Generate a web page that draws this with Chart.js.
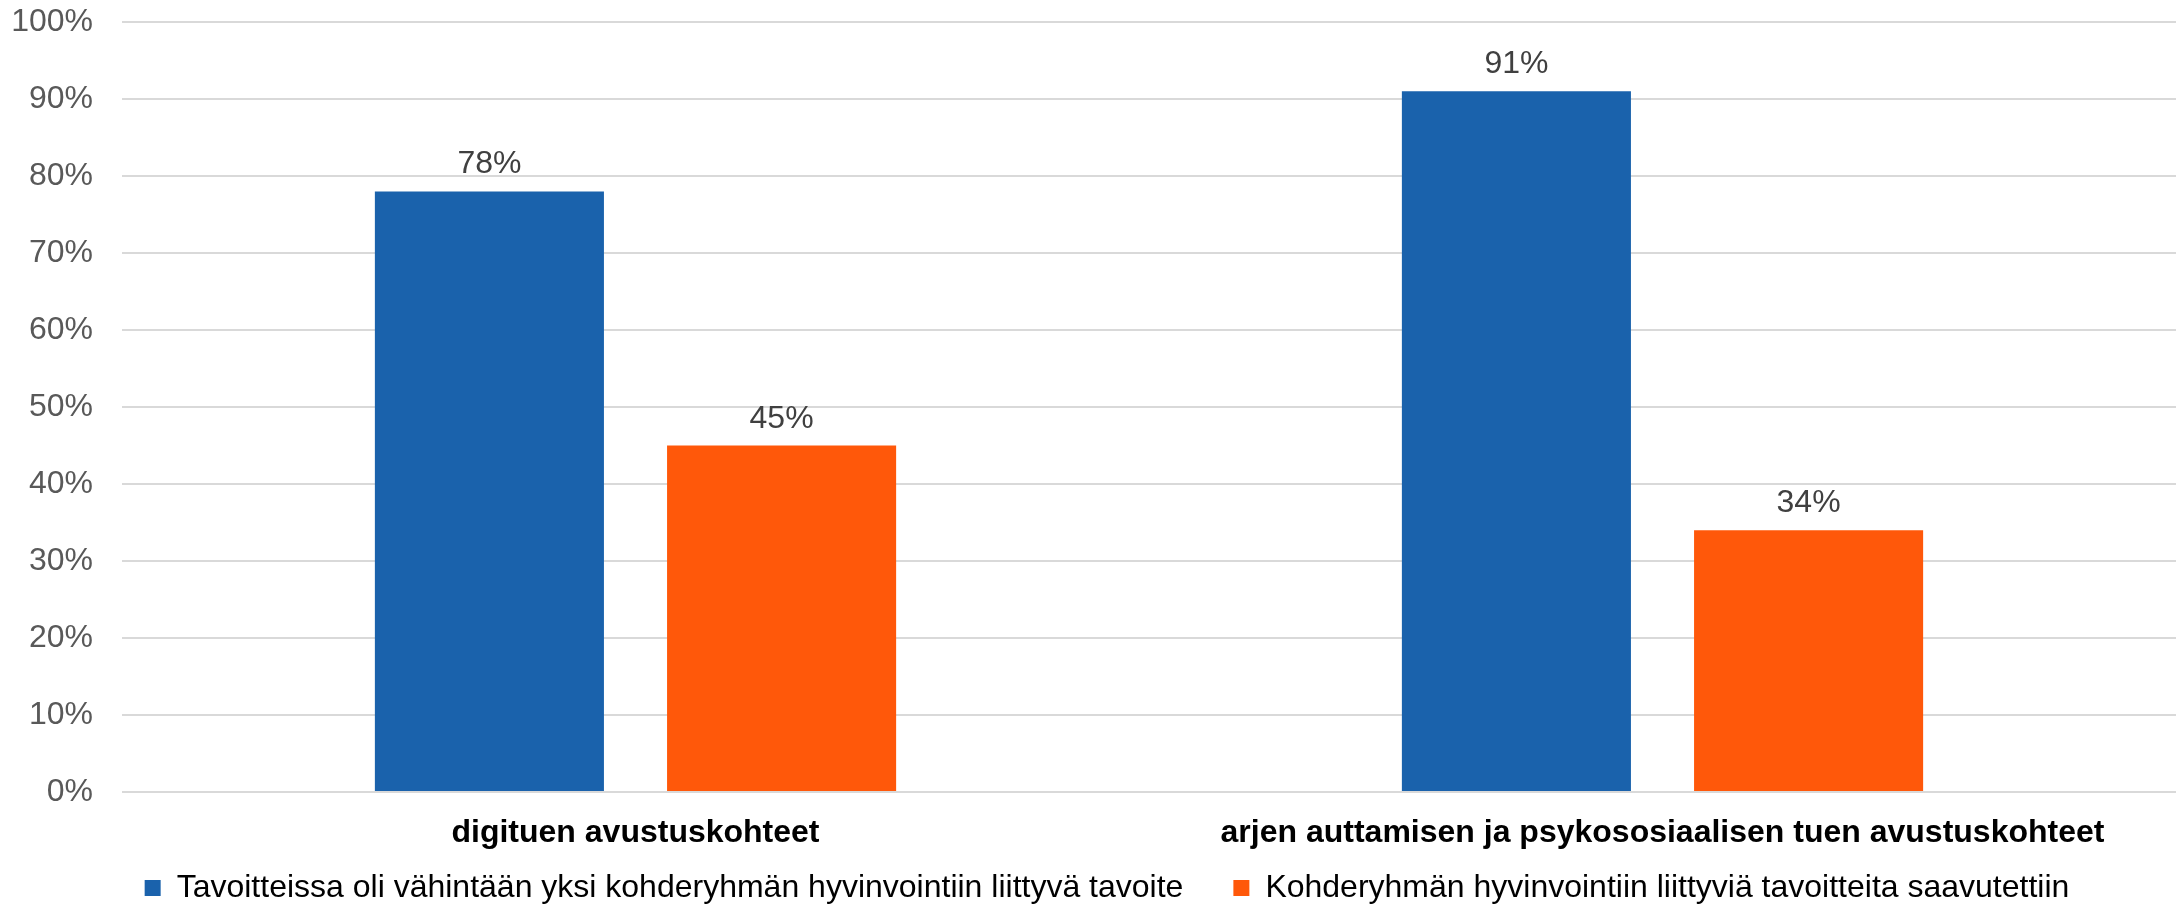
<!DOCTYPE html>
<html>
<head>
<meta charset="utf-8">
<script src="https://cdn.jsdelivr.net/npm/chart.js@4"></script>
<style>
  html, body { margin: 0; padding: 0; background: #fff; }
  #wrap { width: 2176px; height: 907px; }
</style>
</head>
<body>
<div id="wrap"><canvas id="chart"></canvas></div>
<script>
const categories = ['digituen avustuskohteet', 'arjen auttamisen ja psykososiaalisen tuen avustuskohteet'];
const seriesNames = [
  'Tavoitteissa oli vähintään yksi kohderyhmän hyvinvointiin liittyvä tavoite',
  'Kohderyhmän hyvinvointiin liittyviä tavoitteita saavutettiin'
];
const goalSet = [78, 91];
const goalReached = [45, 34];
const seriesColors = ['#1a62ac', '#ff580a'];

const FONT = "'Liberation Sans', Arial, sans-serif";

// draws the percent value above each bar
const valueLabels = {
  id: 'valueLabels',
  afterDatasetsDraw(chart) {
    const ctx = chart.ctx;
    ctx.save();
    ctx.font = '32px ' + FONT;
    ctx.fillStyle = '#404040';
    ctx.textAlign = 'center';
    ctx.textBaseline = 'alphabetic';
    chart.data.datasets.forEach((ds, i) => {
      chart.getDatasetMeta(i).data.forEach((bar, j) => {
        ctx.fillText(ds.data[j] + '%', bar.x, bar.y - 18);
      });
    });
    ctx.restore();
  }
};

new Chart(document.getElementById('chart'), {
  type: 'bar',
  data: {
    labels: categories,
    datasets: [
      { label: seriesNames[0], data: goalSet, backgroundColor: seriesColors[0] },
      { label: seriesNames[1], data: goalReached, backgroundColor: seriesColors[1] }
    ]
  },
  options: {
    responsive: true,
    maintainAspectRatio: false,
    animation: false,
    categoryPercentage: 0.569,
    barPercentage: 0.784,
    // left padding nudges the legend to the right like in the original
    layout: { padding: { top: 22, right: 0, left: 38, bottom: 0 } },
    scales: {
      x: {
        grid: { display: false, drawTicks: false },
        border: { display: false },
        ticks: {
          padding: 22,
          color: '#000',
          font: { family: FONT, size: 32, weight: 'bold' }
        },
        afterFit(scale) {
          // axis box kept short so the legend fits below; labels may spill into it
          scale.height = 30;
          scale._computeLabelArea = () => undefined;
        }
      },
      y: {
        min: 0,
        max: 100,
        ticks: {
          stepSize: 10,
          padding: 0,
          color: '#595959',
          font: { family: FONT, size: 32 },
          callback: v => v + '%'
        },
        grid: { color: '#d9d9d9', lineWidth: 2, drawTicks: true, tickLength: 29, tickColor: 'rgba(0,0,0,0)' },
        border: { display: false },
        afterFit(scale) {
          scale.width = 84;
          scale._computeLabelArea = () => undefined;
        }
      }
    },
    plugins: {
      legend: {
        position: 'bottom',
        maxHeight: 85,
        labels: {
          boxWidth: 16,
          boxHeight: 16,
          padding: 50,
          color: '#000',
          font: { family: FONT, size: 32 }
        }
      },
      tooltip: { enabled: false }
    }
  },
  plugins: [valueLabels]
});
</script>
</body>
</html>
